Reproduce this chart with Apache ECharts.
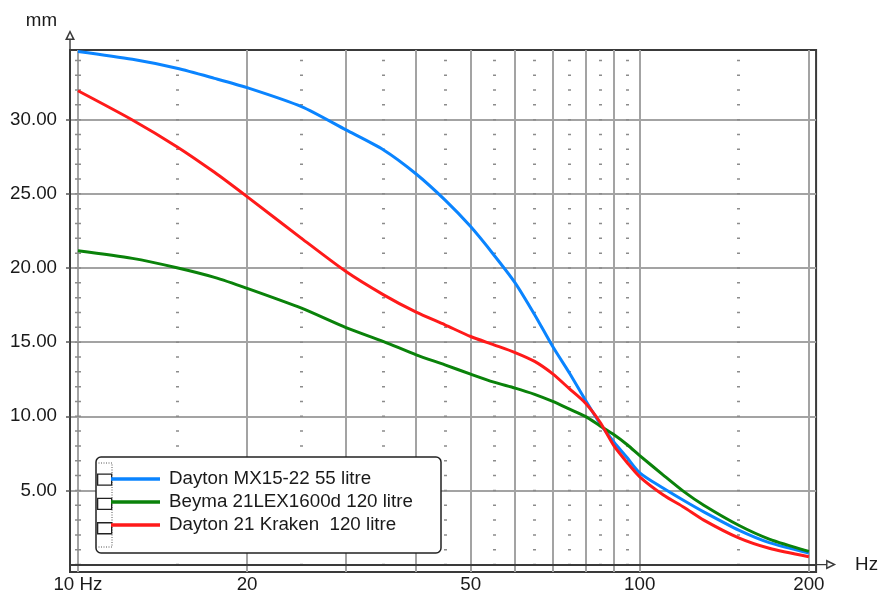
<!DOCTYPE html>
<html>
<head>
<meta charset="utf-8">
<script src="https://cdn.jsdelivr.net/npm/echarts@6/dist/echarts.min.js"></script>
<style>
html,body{margin:0;padding:0;background:#fff;}
#chart{width:881px;height:599px;}
</style>
</head>
<body>
<div id="chart"></div>
<script>
// ---- data ----
var freq = [10, 12.5, 15, 17.5, 20, 25, 30, 35, 40, 45, 50, 55, 60, 65, 70, 75, 80, 85, 90, 95, 100, 110, 120, 130, 150, 170, 200];
var daytonMX = [34.6, 34.07, 33.47, 32.79, 32.16, 30.88, 29.31, 27.96, 26.34, 24.59, 22.79, 20.88, 19.0, 16.85, 14.70, 12.9, 11.1, 9.5, 8.25, 7.2, 6.19, 5.16, 4.3, 3.55, 2.32, 1.48, 0.78];
var beyma = [21.17, 20.65, 20.02, 19.37, 18.63, 17.29, 15.98, 15.04, 14.14, 13.47, 12.84, 12.3, 11.9, 11.48, 11.0, 10.48, 9.99, 9.35, 8.75, 8.08, 7.35, 6.05, 4.9, 4.0, 2.65, 1.72, 0.89];
var kraken = [31.95, 29.98, 28.18, 26.45, 24.81, 22.0, 19.76, 18.19, 17.02, 16.17, 15.38, 14.82, 14.30, 13.70, 12.86, 11.85, 10.9, 9.6, 8.0, 6.87, 5.92, 4.71, 3.85, 3.0, 1.8, 1.1, 0.53];
var seriesNames = ['Dayton MX15-22 55 litre', 'Beyma 21LEX1600d 120 litre', 'Dayton 21 Kraken  120 litre'];
var xMajorTicks = [10, 20, 30, 40, 50, 60, 70, 80, 90, 100, 200];
var xLabelTicks = [10, 20, 50, 100, 200];
var xMinorTicks = [15, 25, 35, 45, 55, 65, 75, 85, 95, 150];
var yTicks = [5, 10, 15, 20, 25, 30];

var FONT = 'Liberation Sans, Arial, sans-serif';
var FS = 18.75;
var xMin = 9.68, xMax = 206;
var yMin = -0.5, yMax = 34.7;
var gridTop = 50, gridBottom = 27;
var plotH = 599 - gridTop - gridBottom;
var unitPx = plotH / (yMax - yMin);
// dot offset so that dots fall on integer mm values (line drawn from top)
var firstDot = (yMax - Math.floor(yMax)) * unitPx - 0.75;
var dashOff = unitPx - firstDot;

function pairs(vals) { return freq.map(function (f, i) { return [f, vals[i]]; }); }

var arrowPath = 'path://M5,0 L10,10 L0,10 Z M5,3.2 L2.6,8.6 L7.4,8.6 Z M4.3,10 L5.7,10 L5.7,20 L4.3,20 Z';

var chart = echarts.init(document.getElementById('chart'), null, {renderer: 'canvas'});
var lineCommon = {type: 'line', xAxisIndex: 0, showSymbol: false, smooth: 0.25, z: 5};
var option = {
  animation: false,
  backgroundColor: '#fff',
  textStyle: {fontFamily: FONT},
  grid: {
    left: 70, right: 62, top: gridTop, bottom: gridBottom,
    show: true, borderColor: '#3a3a3a', borderWidth: 2, backgroundColor: 'transparent'
  },
  xAxis: [
    {
      type: 'log', logBase: 10, min: xMin, max: xMax,
      name: 'Hz', nameLocation: 'end', nameGap: 39,
      nameTextStyle: {fontSize: FS, color: '#1a1a1a', fontFamily: FONT, align: 'left', verticalAlign: 'middle', padding: [0, 0, 8, 0]},
      axisLine: {show: true, lineStyle: {color: '#3a3a3a', width: 2}, symbol: ['none', arrowPath], symbolSize: [10, 20], symbolOffset: [0, 10]},
      axisTick: {show: false, customValues: xMajorTicks},
      axisLabel: {
        customValues: xLabelTicks, margin: 3, fontSize: FS, color: '#1a1a1a', fontFamily: FONT,
        formatter: function (v) { return Math.round(v) === 10 ? '10 Hz' : String(Math.round(v)); }
      },
      splitLine: {show: true, lineStyle: {color: '#a3a3a3', width: 2}},
      minorTick: {show: false}, minorSplitLine: {show: false}
    },
    {
      type: 'log', logBase: 10, min: xMin, max: xMax, position: 'bottom',
      axisLine: {show: false}, axisLabel: {show: false},
      axisTick: {show: false, customValues: xMinorTicks},
      splitLine: {show: true, lineStyle: {color: '#8c8c8c', width: 3, type: [1.5, unitPx - 1.5], dashOffset: dashOff}}
    },
    {
      type: 'log', logBase: 10, min: xMin, max: xMax, position: 'bottom',
      axisLine: {show: false}, axisLabel: {show: false},
      axisTick: {show: false, customValues: [10]},
      splitLine: {show: true, lineStyle: {color: '#8c8c8c', width: 6, type: [1.5, unitPx - 1.5], dashOffset: dashOff}}
    }
  ],
  yAxis: {
    type: 'value', min: yMin, max: yMax,
    name: 'mm', nameLocation: 'end', nameGap: 20,
    nameTextStyle: {fontSize: FS, color: '#1a1a1a', fontFamily: FONT, align: 'right', padding: [0, 13, 0, 0]},
    axisLine: {show: true, lineStyle: {color: '#3a3a3a', width: 2}, symbol: ['none', arrowPath], symbolSize: [10, 20], symbolOffset: [0, 10]},
    axisTick: {show: true, customValues: yTicks, length: 4, lineStyle: {color: '#555', width: 1.5}},
    axisLabel: {
      customValues: yTicks, margin: 13, fontSize: FS, color: '#1a1a1a', fontFamily: FONT,
      formatter: function (v) { return v.toFixed(2); }
    },
    splitLine: {show: true, lineStyle: {color: '#a3a3a3', width: 2}}
  },
  legend: [
    {
      selectedMode: false, orient: 'vertical', left: 97, top: 473.5, padding: 0,
      itemWidth: 14, itemHeight: 11, itemGap: 12, icon: 'rect',
      formatter: function () { return ''; },
      textStyle: {fontSize: 1, lineHeight: 11},
      data: seriesNames.map(function (n) {
        return {name: n, itemStyle: {color: '#fff', borderColor: '#222', borderWidth: 1.3}};
      })
    },
    {
      selectedMode: false, orient: 'vertical', left: 111, top: 469, padding: 0,
      itemWidth: 49, itemHeight: 3.5, itemGap: 3, icon: 'rect',
      textStyle: {fontSize: FS, lineHeight: 20, color: '#1a1a1a', fontFamily: FONT, padding: [0, 0, 0, 4]},
      data: seriesNames
    }
  ],
  graphic: [
    {type: 'rect', z: 3, shape: {x: 96, y: 457, width: 345, height: 96, r: 5}, style: {fill: '#fff', stroke: '#222', lineWidth: 1.5}},
    {type: 'rect', z: 3, shape: {x: 96, y: 463, width: 16, height: 84}, style: {fill: 'none', stroke: '#555', lineWidth: 1, lineDash: [1, 1.5]}}
  ],
  series: [
    Object.assign({name: seriesNames[0], data: pairs(daytonMX), color: '#0a84ff', lineStyle: {width: 3, color: '#0a84ff'}}, lineCommon),
    Object.assign({name: seriesNames[1], data: pairs(beyma), color: '#0a820a', lineStyle: {width: 3, color: '#0a820a'}}, lineCommon),
    Object.assign({name: seriesNames[2], data: pairs(kraken), color: '#ff1a1a', lineStyle: {width: 3, color: '#ff1a1a'}}, lineCommon)
  ]
};
chart.setOption(option);
</script>
</body>
</html>
